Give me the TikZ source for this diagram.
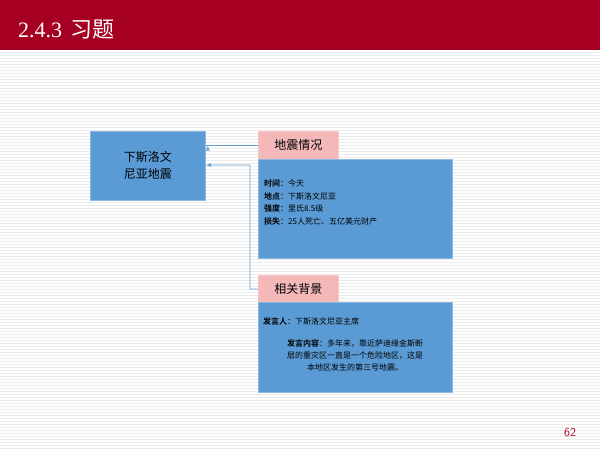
\documentclass[tikz,border=0pt]{standalone}
\usepackage{fontspec}
\setmainfont{Liberation Serif}
\newfontfamily\cjk{Noto Sans CJK SC}
\newfontfamily\cjkb{Noto Sans CJK SC Bold}
\definecolor{hdr}{HTML}{A50021}
\definecolor{bx}{HTML}{5B9BD5}
\definecolor{pk}{HTML}{F4B8B8}
\definecolor{ar}{HTML}{6A9FD4}
\begin{document}
\begin{tikzpicture}[x=1pt,y=-1pt,
  blue/.style={draw=bx!70!white,fill=bx,line width=0.8pt},
  pink/.style={draw=pk!80!white,fill=pk,line width=0.8pt},
  conn/.style={draw=ar,line width=0.8pt,-latex}]
\useasboundingbox (0,0) rectangle (600,450);
\fill[white] (0,0) rectangle (600,450);
\foreach \y in {52,55,...,448} \draw[black!8,line width=0.9pt] (0,\y) -- (600,\y);
\fill[hdr] (0,0) rectangle (600,50);
\node[anchor=west,text=white,font=\fontsize{22}{24}\selectfont,inner sep=0] (title) at (18,30) {2.4.3\hspace{8pt}{\cjk 习题}};
\node[blue,anchor=north west,minimum width=115,minimum height=69,inner sep=0,align=center,font=\cjk\fontsize{12}{17}\selectfont] (main) at (90,131) {下斯洛文\\尼亚地震};
\node[pink,anchor=north west,minimum width=80,minimum height=28,inner sep=0,font=\cjk\fontsize{12}{14}\selectfont] (p1) at (258,131) {地震情况};
\node[blue,anchor=north west,minimum width=194,minimum height=99,inner sep=0] (b1) at (258,159) {};
\node[anchor=north west,align=left,inner sep=0,font=\cjk\fontsize{8}{12.5}\selectfont] (t1) at (264,180) {{\cjkb 时间}：今天\\{\cjkb 地点}：下斯洛文尼亚\\{\cjkb 强度}：里氏8.5级\\{\cjkb 损失}：25人死亡、五亿美元财产};
\node[pink,anchor=north west,minimum width=80,minimum height=27,inner sep=0,font=\cjk\fontsize{12}{14}\selectfont] (p2) at (258,275) {相关背景};
\node[blue,anchor=north west,minimum width=194,minimum height=90,inner sep=0] (b2) at (258,302) {};
\node[anchor=north west,inner sep=0,font=\cjk\fontsize{8}{12}\selectfont] (t2) at (263,317) {{\cjkb 发言人}：下斯洛文尼亚主席};
\node[anchor=north,align=center,inner sep=0,font=\cjk\fontsize{8}{12}\selectfont] (t3) at (355,339) {{\cjkb 发言内容}：多年来，靠近萨迪缘金斯断\\层的重灾区一直是一个危险地区，这是\\本地区发生的第三号地震。};
\coordinate (c1) at (250,289);
\coordinate (c2) at (250,165);
\draw[conn] (p1.west) -- (main.east |- p1.west) ++(2,0);
\draw[conn] (p2.west) -- (c1) -- (c2) -- (main.east |- c2);
\node[text=hdr,font=\fontsize{12}{14}\selectfont\sffamily] (pg) at (570,433) {62};
\end{tikzpicture}
\end{document}
